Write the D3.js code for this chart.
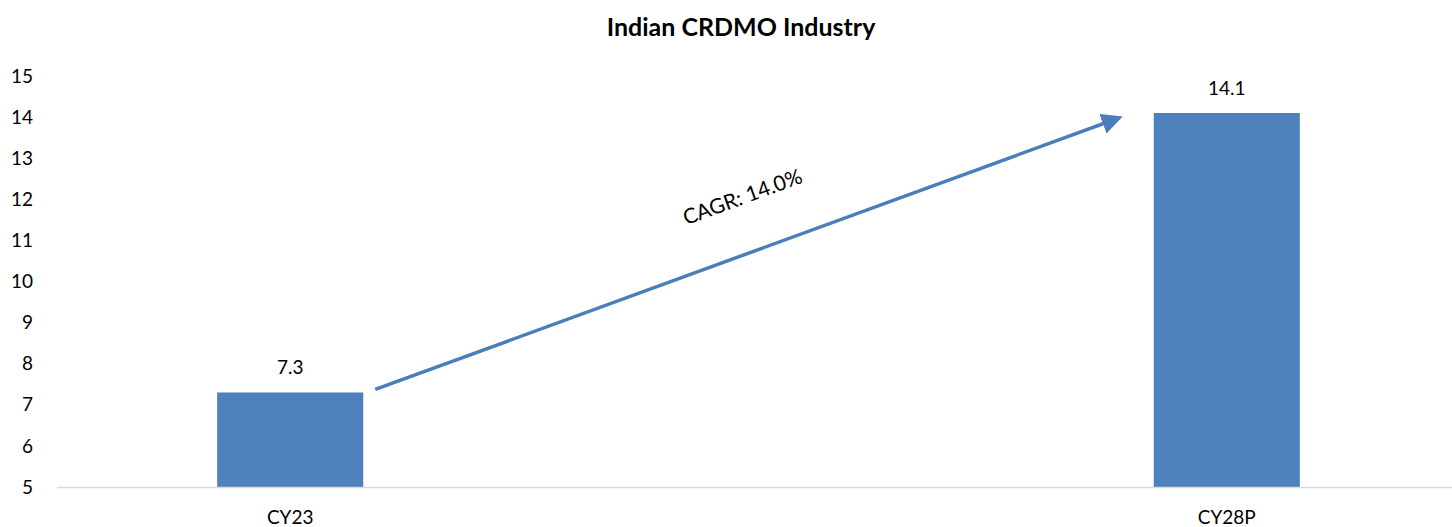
<!DOCTYPE html>
<html>
<head>
<meta charset="utf-8">
<script src="https://cdn.jsdelivr.net/npm/d3@7"></script>
<style>
  body { margin: 0; background: #fff; }
  text { font-family: Lato, "Open Sans", sans-serif; fill: #000; }
</style>
</head>
<body>
<div id="chart"></div>
<script>
const categories = ['CY23', 'CY28P'];
const values = [7.3, 14.1];
const yTicks = [5, 6, 7, 8, 9, 10, 11, 12, 13, 14, 15];
const cagrLabel = 'CAGR: 14.0%';
const title = 'Indian CRDMO Industry';

const width = 1452, height = 527;
const svg = d3.select('#chart').append('svg')
    .attr('width', width).attr('height', height);

const x = d3.scaleBand().domain(categories)
    .range([57, 1460]).paddingInner(0.844).paddingOuter(0.171);
const y = d3.scaleLinear().domain([5, 15]).range([487, 76]);

svg.append('defs').append('marker')
    .attr('id', 'arrow').attr('viewBox', '0 0 10 10')
    .attr('refX', 8).attr('refY', 5)
    .attr('markerWidth', 6).attr('markerHeight', 6)
    .attr('orient', 'auto')
  .append('path').attr('d', 'M0,0 L10,5 L0,10 z').attr('fill', '#4a7ebb');

// title
svg.append('text')
    .attr('x', 741).attr('y', 36)
    .attr('text-anchor', 'middle')
    .style('font-size', '25px').style('font-weight', 'bold')
    .text(title);

// y tick labels
svg.append('g').selectAll('text').data(yTicks).join('text')
    .attr('x', 33).attr('y', d => y(d))
    .attr('dy', '0.35em')
    .attr('text-anchor', 'end')
    .style('font-size', '19px')
    .text(d => d);

// bars
svg.append('g').selectAll('rect').data(values).join('rect')
    .attr('x', (d, i) => x(categories[i]))
    .attr('width', x.bandwidth())
    .attr('y', d => y(d))
    .attr('height', d => y(5) - y(d))
    .attr('fill', '#4f81bd');

// x axis line
svg.append('line')
    .attr('x1', 57).attr('x2', width)
    .attr('y1', y(5) + 0.5).attr('y2', y(5) + 0.5)
    .attr('stroke', '#d9d9d9').attr('stroke-width', 1.5);

// category labels
svg.append('g').selectAll('text').data(categories).join('text')
    .attr('x', d => x(d) + x.bandwidth() / 2)
    .attr('y', 524)
    .attr('text-anchor', 'middle')
    .style('font-size', '19px')
    .text(d => d);

// value labels
svg.append('g').selectAll('text').data(values).join('text')
    .attr('x', (d, i) => x(categories[i]) + x.bandwidth() / 2)
    .attr('y', d => y(d) - 18)
    .attr('text-anchor', 'middle')
    .style('font-size', '19px')
    .text(d => d.toFixed(1));

// CAGR arrow
const ax1 = x(categories[0]) + x.bandwidth() + 12, ay1 = y(values[0]) - 3;
const ax2 = x(categories[1]) - 35, ay2 = y(values[1]) + 5;
svg.append('line')
    .attr('x1', ax1).attr('y1', ay1)
    .attr('x2', ax2).attr('y2', ay2)
    .attr('stroke', '#4a7ebb').attr('stroke-width', 3.5)
    .attr('marker-end', 'url(#arrow)');

const angle = Math.atan2(ay2 - ay1, ax2 - ax1) * 180 / Math.PI;
svg.append('text')
    .attr('transform', `translate(${(ax1 + ax2) / 2 - 2},${(ay1 + ay2) / 2 - 50}) rotate(${angle})`)
    .attr('text-anchor', 'middle')
    .style('font-size', '21px')
    .text(cagrLabel);
</script>
</body>
</html>
